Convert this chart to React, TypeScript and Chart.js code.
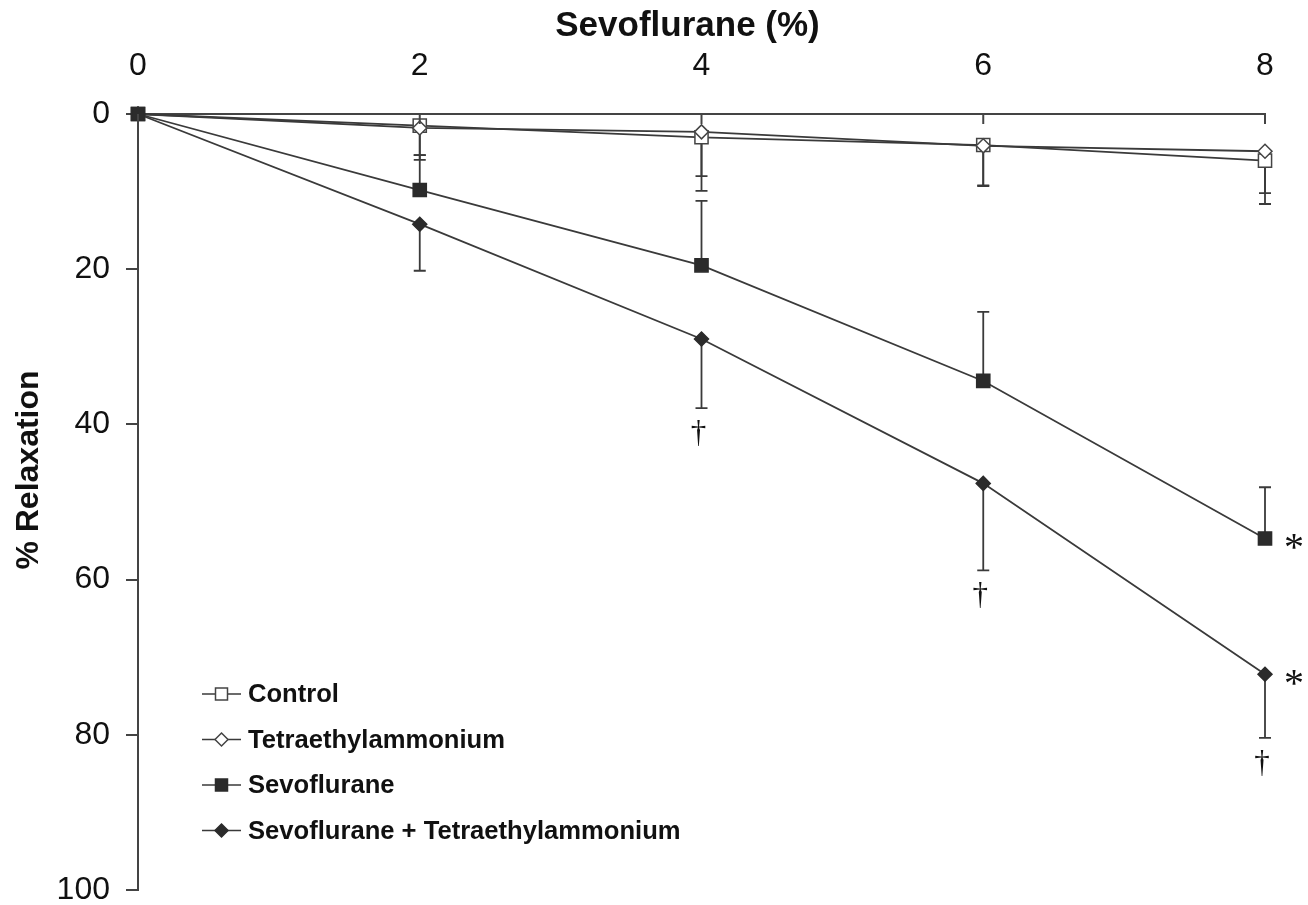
import React, { useEffect, useRef } from "react";
import { Chart, registerables } from "chart.js";

Chart.register(...registerables);

// ---------- data ----------
const doses = [0, 2, 4, 6, 8];
const seriesLabels = [
  "Control",
  "Tetraethylammonium",
  "Sevoflurane",
  "Sevoflurane + Tetraethylammonium",
];
const controlMean = [0, 1.5, 3.0, 4.0, 6.0];
const controlErr = [0, 4.4, 6.9, 5.2, 5.6];
const teaMean = [0, 1.8, 2.3, 4.1, 4.8];
const teaErr = [0, 3.5, 5.7, 5.2, 5.4];
const sevoMean = [0, 9.8, 19.5, 34.4, 54.7];
const sevoErr = [0, 4.5, 8.3, 8.9, 6.6];
const sevoTeaMean = [0, 14.2, 29.0, 47.6, 72.2];
const sevoTeaErr = [0, 6.0, 8.9, 11.2, 8.2];
// +1: error bar drawn toward larger relaxation, -1: toward smaller
const errDirection = [1, 1, -1, 1];
// significance marks
const daggerDoses = [4, 6, 8]; // below Sevoflurane + Tetraethylammonium
const daggerSeries = 3;
const asteriskDose = 8;
const asteriskSeries = [2, 3];
const xTickValues = [0, 2, 4, 6, 8];
const xTitle = "Sevoflurane (%)";
const yTitle = "% Relaxation";

const means = [controlMean, teaMean, sevoMean, sevoTeaMean];
const errs = [controlErr, teaErr, sevoErr, sevoTeaErr];

// ---------- styles ----------
const FONT = "'Liberation Sans', Arial, sans-serif";
const SERIF = "'Liberation Serif', 'Times New Roman', serif";
const LINE = "#3a3a3a";
const AXIS = "#444444";
const styles = [
  { pointStyle: "rect", radius: 9.3, fill: "#ffffff", border: "#444444" },
  { pointStyle: "rectRot", radius: 7, fill: "#ffffff", border: "#444444" },
  { pointStyle: "rect", radius: 9.3, fill: "#2b2b2b", border: "#2b2b2b" },
  { pointStyle: "rectRot", radius: 7, fill: "#2b2b2b", border: "#2b2b2b" },
];
const drawOrder = [3, 2, 0, 1];

const errorBarPlugin = {
  id: "errorBars",
  beforeDatasetsDraw(chart: any) {
    const { ctx } = chart;
    const xs = chart.scales.x;
    const ys = chart.scales.y;
    ctx.save();
    ctx.strokeStyle = LINE;
    ctx.lineWidth = 1.8;
    means.forEach((m, i) => {
      m.forEach((v, j) => {
        const e = errs[i][j];
        if (!e) return;
        const x = xs.getPixelForValue(doses[j]);
        const y0 = ys.getPixelForValue(v);
        const y1 = ys.getPixelForValue(v + errDirection[i] * e);
        ctx.beginPath();
        ctx.moveTo(x, y0);
        ctx.lineTo(x, y1);
        ctx.moveTo(x - 6, y1);
        ctx.lineTo(x + 6, y1);
        ctx.stroke();
      });
    });
    ctx.restore();
  },
};

const decorPlugin = {
  id: "decor",
  afterDraw(chart: any) {
    const { ctx, chartArea } = chart;
    const xs = chart.scales.x;
    const ys = chart.scales.y;
    ctx.save();
    // inward x ticks
    ctx.strokeStyle = AXIS;
    ctx.lineWidth = 2;
    xTickValues.forEach((t) => {
      const x = xs.getPixelForValue(t);
      ctx.beginPath();
      ctx.moveTo(x, chartArea.top);
      ctx.lineTo(x, chartArea.top + 10);
      ctx.stroke();
    });

    // titles
    ctx.fillStyle = "#111";
    ctx.font = `bold 35px ${FONT}`;
    ctx.textAlign = "center";
    ctx.textBaseline = "middle";
    ctx.fillText(xTitle, (chartArea.left + chartArea.right) / 2 - 14, 26);
    ctx.save();
    ctx.translate(29, (chartArea.top + chartArea.bottom) / 2 - 32);
    ctx.rotate(-Math.PI / 2);
    ctx.font = `bold 32px ${FONT}`;
    ctx.fillText(yTitle, 0, 0);
    ctx.restore();

    // daggers
    ctx.font = `31px ${SERIF}`;
    ctx.textAlign = "center";
    ctx.textBaseline = "middle";
    daggerDoses.forEach((d) => {
      const j = doses.indexOf(d);
      const v = means[daggerSeries][j] + errs[daggerSeries][j];
      const x = xs.getPixelForValue(d) - 3;
      const y = ys.getPixelForValue(v) + 26;
      ctx.fillText("\u2020", x, y);
    });
    // asterisks
    ctx.font = `40px ${SERIF}`;
    asteriskSeries.forEach((s) => {
      const j = doses.indexOf(asteriskDose);
      const x = xs.getPixelForValue(asteriskDose) + 29;
      const y = ys.getPixelForValue(means[s][j]) + 11;
      ctx.fillText("*", x, y);
    });

    // legend
    const lx = chartArea.left + 64;
    const ly0 = chartArea.top + 580;
    const gap = 45.5;
    seriesLabels.forEach((label, i) => {
      const y = ly0 + i * gap;
      const st = styles[i];
      ctx.strokeStyle = LINE;
      ctx.lineWidth = 1.6;
      ctx.beginPath();
      ctx.moveTo(lx, y);
      ctx.lineTo(lx + 39, y);
      ctx.stroke();
      const cx = lx + 19.5;
      ctx.fillStyle = st.fill;
      ctx.strokeStyle = st.border;
      ctx.lineWidth = 1.5;
      ctx.beginPath();
      if (st.pointStyle === "rect") {
        ctx.rect(cx - 6, y - 6, 12, 12);
      } else {
        ctx.moveTo(cx, y - 6.5);
        ctx.lineTo(cx + 6.5, y);
        ctx.lineTo(cx, y + 6.5);
        ctx.lineTo(cx - 6.5, y);
        ctx.closePath();
      }
      ctx.fill();
      ctx.stroke();
      ctx.fillStyle = "#111";
      ctx.font = `bold 25.6px ${FONT}`;
      ctx.textAlign = "left";
      ctx.textBaseline = "middle";
      ctx.fillText(label, lx + 46, y + 1);
    });
    ctx.restore();
  },
};

export default function App() {
  const ref = useRef<HTMLCanvasElement | null>(null);

  useEffect(() => {
    if (!ref.current) return;
    const datasets = seriesLabels.map((label, i) => ({
      label,
      data: doses.map((d, j) => ({ x: d, y: means[i][j] })),
      borderColor: LINE,
      borderWidth: 1.8,
      pointStyle: styles[i].pointStyle,
      pointRadius: styles[i].radius,
      pointHoverRadius: styles[i].radius,
      pointBackgroundColor: styles[i].fill,
      pointBorderColor: styles[i].border,
      pointBorderWidth: 1.5,
      fill: false,
      tension: 0,
      clip: false,
      order: drawOrder[i],
    }));

    const chart = new Chart(ref.current, {
      type: "line",
      data: { datasets },
      options: {
        responsive: false,
        animation: false,
        layout: { padding: { left: 0, top: 0, right: 43, bottom: 15 } },
        plugins: {
          legend: { display: false },
          tooltip: { enabled: false },
        },
        scales: {
          x: {
            type: "linear",
            position: "top",
            min: 0,
            max: 8,
            afterFit: (s: any) => {
              s.height = 114;
              s.paddingLeft = 0;
              s.paddingRight = 0;
            },
            ticks: {
              stepSize: 2,
              padding: 29,
              color: "#111",
              font: { family: FONT, size: 32, lineHeight: 1.2 },
            },
            grid: { display: true, drawOnChartArea: false, drawTicks: false },
            border: { display: true, color: AXIS, width: 2 },
          },
          y: {
            type: "linear",
            reverse: true,
            min: 0,
            max: 100,
            afterFit: (s: any) => {
              s.width = 138;
              s.paddingTop = 0;
              s.paddingBottom = 0;
            },
            ticks: {
              stepSize: 20,
              padding: 16,
              color: "#111",
              font: { family: FONT, size: 32, lineHeight: 1.2 },
            },
            grid: {
              display: true,
              drawOnChartArea: false,
              drawTicks: true,
              tickLength: 12,
              color: AXIS,
              lineWidth: 2,
            },
            border: { display: true, color: AXIS, width: 2 },
          },
        },
      },
      plugins: [errorBarPlugin, decorPlugin],
    } as any);
    return () => chart.destroy();
  }, []);

  return (
    <div style={{ position: "fixed", left: 0, top: 0, width: 1308, height: 905, background: "#fff" }}>
      <canvas ref={ref} width={1308} height={905} />
    </div>
  );
}
